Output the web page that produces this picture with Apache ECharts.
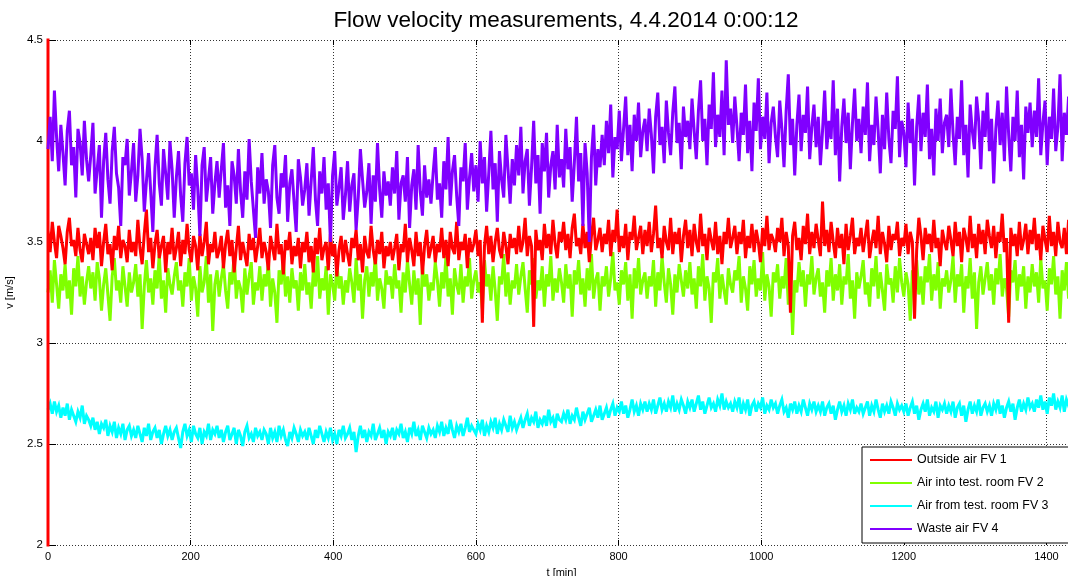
<!DOCTYPE html>
<html>
<head>
<meta charset="utf-8">
<script src="https://cdn.jsdelivr.net/npm/echarts@6/dist/echarts.min.js"></script>
<style>
html,body{margin:0;padding:0;background:#fff;}
#chart{width:1068px;height:576px;}
</style>
</head>
<body>
<div id="chart"></div>
<script>
// Sampling step of the series below (minutes); each row = one hour
const T_STEP = 3;

const seriesNames = ['Outside air FV 1', 'Air into test. room FV 2', 'Air from test. room FV 3', 'Waste air FV 4'];
const xTicks = [0, 200, 400, 600, 800, 1000, 1200, 1400];
const yTicks = [2, 2.5, 3, 3.5, 4, 4.5];

// initial transient of FV 1 at t = 0 (vertical red line on the left edge)
const fv1Start = [1.5, 4.6];

const fv1 = [
3.56,3.45,3.60,3.50,3.42,3.58,3.53,3.47,3.39,3.55,3.62,3.48,3.51,3.43,3.57,3.46,3.40,3.54,3.49,3.44,
3.52,3.41,3.57,3.47,3.55,3.38,3.50,3.59,3.44,3.49,3.36,3.53,3.46,3.58,3.42,3.51,3.48,3.40,3.56,3.45,
3.50,3.43,3.61,3.47,3.39,3.54,3.66,3.45,3.52,3.37,3.49,3.56,3.42,3.48,3.53,3.35,3.50,3.44,3.57,3.41,
3.47,3.55,3.38,3.51,3.44,3.59,3.46,3.40,3.53,3.48,3.36,3.54,3.43,3.50,3.60,3.39,3.49,3.45,3.55,3.42,
3.46,3.53,3.37,3.49,3.56,3.43,3.51,3.35,3.47,3.58,3.41,3.50,3.44,3.38,3.54,3.46,3.52,3.40,3.48,3.57,
3.42,3.50,3.45,3.36,3.53,3.47,3.41,3.59,3.44,3.49,3.34,3.51,3.46,3.55,3.39,3.48,3.43,3.52,3.37,3.50,
3.45,3.55,3.40,3.48,3.35,3.52,3.44,3.57,3.41,3.47,3.50,3.36,3.54,3.43,3.49,3.33,3.46,3.53,3.40,3.51,
3.44,3.38,3.52,3.47,3.56,3.41,3.49,3.35,3.53,3.45,3.42,3.58,3.46,3.39,3.51,3.44,3.55,3.37,3.48,3.43,
3.50,3.41,3.47,3.54,3.36,3.49,3.45,3.59,3.40,3.52,3.46,3.38,3.55,3.43,3.50,3.34,3.48,3.56,3.42,3.47,
3.53,3.40,3.49,3.45,3.57,3.42,3.51,3.38,3.55,3.47,3.44,3.60,3.41,3.50,3.46,3.54,3.37,3.52,3.45,3.49,
3.56,3.43,3.51,3.10,3.48,3.58,3.44,3.53,3.40,3.50,3.57,3.46,3.42,3.55,3.48,3.39,3.54,3.47,3.52,3.44,
3.58,3.45,3.50,3.62,3.43,3.53,3.48,3.08,3.56,3.46,3.51,3.41,3.59,3.47,3.54,3.44,3.61,3.49,3.42,3.55,
3.50,3.60,3.46,3.54,3.42,3.57,3.64,3.48,3.52,3.44,3.59,3.47,3.55,3.40,3.53,3.62,3.46,3.51,3.57,3.45,
3.54,3.49,3.61,3.43,3.56,3.50,3.66,3.45,3.53,3.47,3.59,3.41,3.55,3.51,3.63,3.46,3.52,3.58,3.44,3.56,
3.48,3.60,3.45,3.54,3.68,3.47,3.52,3.42,3.58,3.50,3.46,3.62,3.44,3.55,3.49,3.57,3.40,3.53,3.61,3.47,
3.56,3.43,3.59,3.50,3.45,3.64,3.48,3.54,3.41,3.57,3.51,3.46,3.60,3.44,3.53,3.39,3.55,3.49,3.62,3.47,
3.52,3.58,3.44,3.55,3.49,3.61,3.42,3.53,3.47,3.59,3.45,3.56,3.50,3.40,3.57,3.48,3.63,3.46,3.54,3.51,
3.45,3.57,3.50,3.62,3.43,3.55,3.48,3.15,3.53,3.60,3.46,3.52,3.41,3.58,3.49,3.64,3.44,3.55,3.47,3.59,
3.51,3.43,3.70,3.48,3.56,3.45,3.60,3.50,3.42,3.57,3.47,3.54,3.39,3.59,3.46,3.53,3.62,3.44,3.52,3.48,
3.57,3.45,3.53,3.61,3.42,3.50,3.56,3.47,3.63,3.44,3.55,3.49,3.40,3.58,3.46,3.54,3.51,3.60,3.43,3.52,
3.48,3.59,3.44,3.55,3.50,3.12,3.46,3.62,3.53,3.41,3.57,3.49,3.54,3.45,3.61,3.47,3.52,3.38,3.56,3.50,
3.46,3.58,3.51,3.43,3.60,3.48,3.55,3.40,3.57,3.52,3.45,3.63,3.47,3.54,3.42,3.59,3.49,3.56,3.44,3.61,
3.53,3.47,3.58,3.42,3.55,3.50,3.64,3.45,3.52,3.10,3.57,3.48,3.54,3.43,3.60,3.46,3.51,3.59,3.44,3.56,
3.49,3.62,3.46,3.54,3.41,3.58,3.51,3.45,3.63,3.48,3.55,3.43,3.60,3.50,3.47,3.57,3.44,3.61,3.52,3.55
];

const fv2 = [
3.25,3.36,3.20,3.41,3.29,3.17,3.34,3.26,3.39,3.22,3.31,3.14,3.37,3.28,3.43,3.23,3.33,3.19,3.30,3.38,
3.27,3.35,3.21,3.40,3.32,3.16,3.29,3.37,3.24,3.11,3.33,3.42,3.26,3.31,3.20,3.38,3.28,3.18,3.35,3.25,
3.30,3.39,3.23,3.34,3.07,3.28,3.41,3.25,3.32,3.19,3.36,3.27,3.44,3.22,3.31,3.15,3.37,3.29,3.24,3.33,
3.40,3.26,3.31,3.18,3.35,3.28,3.42,3.21,3.33,3.27,3.13,3.38,3.25,3.30,3.43,3.20,3.34,3.06,3.29,3.36,
3.23,3.32,3.39,3.26,3.17,3.35,3.29,3.44,3.22,3.31,3.27,3.15,3.37,3.24,3.33,3.40,3.19,3.30,3.26,3.38,
3.21,3.34,3.28,3.41,3.18,3.32,3.25,3.10,3.36,3.29,3.42,3.23,3.33,3.20,3.37,3.27,3.31,3.16,3.35,3.26,
3.39,3.24,3.30,3.17,3.36,3.28,3.43,3.22,3.32,3.26,3.38,3.14,3.34,3.29,3.21,3.40,3.27,3.33,3.19,3.31,
3.25,3.37,3.30,3.20,3.42,3.26,3.34,3.12,3.31,3.38,3.23,3.35,3.28,3.44,3.21,3.32,3.27,3.17,3.36,3.29,
3.33,3.22,3.39,3.27,3.31,3.15,3.35,3.25,3.41,3.29,3.19,3.36,3.24,3.32,3.09,3.38,3.28,3.34,3.21,3.30,
3.26,3.40,3.31,3.18,3.35,3.27,3.43,3.23,3.32,3.14,3.37,3.29,3.24,3.39,3.20,3.33,3.28,3.42,3.22,3.31,
3.36,3.25,3.30,3.17,3.41,3.28,3.34,3.21,3.38,3.26,3.11,3.33,3.29,3.44,3.23,3.35,3.19,3.31,3.27,3.39,
3.24,3.33,3.40,3.27,3.15,3.36,3.29,3.42,3.22,3.31,3.26,3.38,3.18,3.34,3.28,3.43,3.21,3.32,3.25,3.37,
3.30,3.20,3.39,3.27,3.34,3.13,3.36,3.29,3.41,3.24,3.32,3.18,3.37,3.26,3.44,3.22,3.31,3.35,3.16,3.33,
3.28,3.38,3.23,3.32,3.45,3.26,3.30,3.19,3.36,3.29,3.40,3.21,3.34,3.12,3.37,3.27,3.42,3.24,3.31,3.35,
3.22,3.33,3.28,3.41,3.18,3.35,3.26,3.43,3.30,3.20,3.37,3.29,3.14,3.34,3.25,3.39,3.31,3.23,3.36,3.27,
3.40,3.24,3.32,3.17,3.38,3.28,3.44,3.21,3.33,3.27,3.10,3.35,3.30,3.42,3.22,3.34,3.26,3.19,3.37,3.29,
3.25,3.36,3.31,3.43,3.20,3.33,3.27,3.16,3.38,3.29,3.41,3.23,3.32,3.26,3.45,3.21,3.34,3.28,3.13,3.35,
3.30,3.39,3.22,3.33,3.27,3.42,3.19,3.35,3.04,3.31,3.25,3.40,3.28,3.36,3.18,3.34,3.29,3.43,3.24,3.32,
3.37,3.23,3.30,3.15,3.36,3.28,3.42,3.21,3.34,3.26,3.39,3.19,3.33,3.29,3.44,3.22,3.31,3.12,3.35,3.27,
3.33,3.41,3.24,3.30,3.18,3.37,3.28,3.43,3.22,3.35,3.26,3.16,3.39,3.29,3.32,3.20,3.38,3.25,3.42,3.30,
3.23,3.35,3.29,3.11,3.36,3.27,3.41,3.24,3.33,3.19,3.38,3.30,3.44,3.21,3.34,3.26,3.40,3.17,3.32,3.28,
3.36,3.25,3.31,3.43,3.20,3.34,3.28,3.39,3.15,3.33,3.27,3.42,3.22,3.35,3.07,3.30,3.38,3.24,3.32,3.40,
3.26,3.34,3.19,3.37,3.29,3.44,3.23,3.32,3.27,3.13,3.36,3.30,3.41,3.21,3.34,3.28,3.38,3.17,3.33,3.25,
3.39,3.28,3.35,3.20,3.42,3.27,3.31,3.16,3.37,3.29,3.43,3.24,3.33,3.12,3.36,3.26,3.40,3.22,3.31,3.34
];

const fv3 = [
2.67,2.70,2.65,2.71,2.66,2.69,2.63,2.68,2.64,2.70,2.62,2.67,2.64,2.61,2.66,2.63,2.69,2.60,2.64,2.62,
2.59,2.63,2.57,2.61,2.55,2.60,2.58,2.62,2.54,2.59,2.56,2.61,2.53,2.58,2.55,2.60,2.52,2.57,2.59,2.54,
2.57,2.53,2.59,2.55,2.51,2.58,2.54,2.60,2.52,2.56,2.58,2.53,2.57,2.50,2.55,2.59,2.54,2.57,2.52,2.56,
2.58,2.53,2.48,2.56,2.60,2.54,2.57,2.51,2.59,2.55,2.53,2.58,2.50,2.56,2.54,2.60,2.52,2.57,2.55,2.59,
2.53,2.57,2.51,2.56,2.59,2.52,2.55,2.58,2.50,2.57,2.54,2.49,2.56,2.59,2.53,2.55,2.51,2.58,2.54,2.56,
2.52,2.57,2.55,2.50,2.58,2.53,2.56,2.51,2.59,2.54,2.57,2.52,2.49,2.56,2.53,2.58,2.55,2.51,2.57,2.54,
2.56,2.52,2.58,2.54,2.50,2.57,2.53,2.59,2.55,2.51,2.56,2.53,2.58,2.52,2.55,2.50,2.57,2.54,2.59,2.53,
2.55,2.58,2.52,2.56,2.46,2.54,2.59,2.53,2.57,2.51,2.56,2.54,2.60,2.52,2.55,2.58,2.53,2.57,2.50,2.56,
2.54,2.58,2.52,2.57,2.55,2.60,2.53,2.56,2.51,2.58,2.55,2.61,2.54,2.57,2.52,2.59,2.56,2.53,2.58,2.55,
2.57,2.53,2.59,2.56,2.61,2.54,2.58,2.55,2.62,2.57,2.53,2.59,2.56,2.60,2.54,2.58,2.63,2.56,2.59,2.57,
2.55,2.60,2.57,2.62,2.54,2.59,2.56,2.61,2.58,2.63,2.55,2.60,2.57,2.62,2.59,2.56,2.64,2.58,2.61,2.57,
2.60,2.63,2.58,2.62,2.65,2.59,2.63,2.61,2.66,2.58,2.62,2.60,2.64,2.59,2.67,2.61,2.63,2.58,2.65,2.62,
2.61,2.65,2.62,2.67,2.60,2.64,2.62,2.68,2.63,2.59,2.66,2.62,2.65,2.68,2.61,2.64,2.67,2.63,2.69,2.62,
2.65,2.68,2.63,2.67,2.70,2.64,2.68,2.66,2.71,2.65,2.69,2.63,2.67,2.72,2.66,2.69,2.64,2.70,2.67,2.71,
2.66,2.70,2.67,2.72,2.65,2.69,2.73,2.67,2.70,2.66,2.71,2.68,2.74,2.66,2.70,2.67,2.72,2.69,2.65,2.71,
2.68,2.72,2.66,2.70,2.74,2.67,2.71,2.65,2.69,2.73,2.68,2.70,2.66,2.72,2.69,2.75,2.67,2.71,2.68,2.70,
2.66,2.71,2.68,2.73,2.65,2.70,2.67,2.72,2.64,2.69,2.71,2.66,2.70,2.68,2.73,2.65,2.69,2.67,2.72,2.68,
2.70,2.65,2.69,2.72,2.66,2.68,2.63,2.70,2.67,2.71,2.65,2.69,2.66,2.72,2.68,2.64,2.70,2.67,2.71,2.66,
2.69,2.66,2.71,2.64,2.68,2.70,2.65,2.69,2.62,2.67,2.71,2.66,2.69,2.64,2.70,2.67,2.72,2.65,2.68,2.66,
2.70,2.65,2.68,2.71,2.64,2.69,2.66,2.72,2.67,2.63,2.70,2.66,2.69,2.65,2.71,2.68,2.64,2.70,2.67,2.69,
2.66,2.70,2.64,2.68,2.71,2.65,2.69,2.62,2.67,2.70,2.66,2.72,2.64,2.68,2.66,2.71,2.63,2.69,2.67,2.70,
2.65,2.69,2.66,2.71,2.63,2.68,2.70,2.64,2.69,2.61,2.67,2.71,2.65,2.69,2.66,2.72,2.64,2.68,2.70,2.66,
2.69,2.64,2.70,2.67,2.72,2.65,2.69,2.63,2.68,2.71,2.66,2.70,2.62,2.68,2.72,2.66,2.70,2.67,2.73,2.68,
2.70,2.66,2.72,2.68,2.74,2.67,2.71,2.65,2.73,2.69,2.75,2.67,2.71,2.68,2.74,2.66,2.72,2.69,2.73,2.70
];

const fv4 = [
3.96,4.12,3.90,4.25,4.02,3.85,4.08,3.94,3.78,4.05,4.15,3.88,3.97,3.72,4.06,3.99,3.83,4.10,3.91,3.80,
3.93,4.09,3.74,3.86,3.98,3.62,3.90,4.04,3.81,3.69,3.95,4.07,3.84,3.77,3.58,3.92,3.88,4.01,3.73,3.85,
3.99,3.70,3.83,4.06,3.91,3.65,3.80,3.94,3.75,3.55,3.87,4.03,3.79,3.68,3.96,3.84,3.71,4.00,3.86,3.62,
3.82,3.95,3.73,3.60,3.89,4.02,3.78,3.84,3.66,3.93,3.76,3.53,3.88,3.97,3.70,3.81,3.92,3.64,3.79,3.90,
3.72,3.86,3.99,3.67,3.78,3.58,3.90,3.83,3.69,3.96,3.75,3.62,3.85,3.71,4.01,3.80,3.66,3.52,3.87,3.74,
3.94,3.69,3.81,3.75,3.57,3.88,3.98,3.72,3.64,3.84,3.77,3.93,3.60,3.79,3.86,3.70,3.55,3.91,3.82,3.68,
3.76,3.89,3.63,3.80,3.97,3.71,3.58,3.85,3.74,3.92,3.66,3.79,3.50,3.83,3.95,3.68,3.77,3.87,3.61,3.73,
3.90,3.65,3.78,3.84,3.56,3.72,3.96,3.81,3.67,3.75,3.89,3.59,3.83,3.70,3.99,3.76,3.62,3.85,3.73,3.80,
3.68,3.87,3.74,3.95,3.61,3.79,3.83,3.70,3.92,3.57,3.78,3.86,3.66,3.98,3.75,3.63,3.88,3.72,3.81,3.69,
3.84,3.97,3.71,3.79,3.62,3.90,3.76,4.02,3.68,3.85,3.93,3.73,3.58,3.87,3.80,3.99,3.66,3.82,3.94,3.75,
3.88,3.70,4.00,3.79,3.92,3.65,3.84,4.05,3.76,3.89,3.60,3.95,3.81,3.72,4.03,3.86,3.69,3.91,3.78,3.98,
3.83,4.07,3.74,3.90,3.96,3.68,3.87,4.10,3.79,3.93,3.64,3.99,3.85,4.04,3.72,3.88,3.95,3.76,4.08,3.82,
3.91,3.77,4.06,3.86,3.97,3.70,3.89,4.12,3.80,3.94,3.58,3.99,3.84,3.50,3.92,4.08,3.78,3.96,3.87,4.03,
3.88,4.10,3.94,4.18,3.82,4.02,3.96,4.15,3.90,4.06,4.22,3.93,4.08,3.85,4.13,4.00,4.19,3.92,4.05,4.11,
3.95,4.16,4.03,3.84,4.12,4.24,3.98,4.07,3.89,4.20,4.04,3.93,4.14,4.27,3.99,4.09,3.86,4.17,4.02,4.10,
3.96,4.21,4.05,3.91,4.15,4.30,4.00,4.11,3.88,4.18,4.06,4.34,3.97,4.13,4.02,4.25,3.93,4.40,4.08,4.16,
3.99,4.22,4.07,3.90,4.14,4.03,4.28,3.94,4.10,3.85,4.19,4.05,4.31,3.96,4.12,4.01,4.24,3.89,4.09,4.17,
4.02,3.92,4.20,4.06,3.87,4.15,4.33,3.98,4.11,3.83,4.08,4.23,3.95,4.13,4.04,4.27,3.91,4.07,4.18,3.97,
4.12,3.88,4.05,4.25,3.96,4.10,4.01,4.30,3.93,4.16,3.80,4.07,4.21,3.99,4.14,3.86,4.09,4.26,4.00,4.11,
3.94,4.17,4.03,4.29,3.90,4.08,3.98,4.22,4.05,3.84,4.13,3.96,4.24,4.01,3.89,4.15,4.06,4.32,3.92,4.10,
4.04,3.87,4.19,3.99,4.11,3.78,4.07,4.23,3.95,4.14,4.02,4.28,3.91,4.06,3.83,4.16,4.00,4.21,3.94,4.09,
4.13,3.97,4.26,4.04,3.88,4.12,4.01,4.30,3.93,4.08,3.82,4.18,4.05,3.96,4.22,4.10,3.86,4.15,4.02,4.24,
3.95,4.11,3.79,4.06,4.20,3.98,4.14,3.90,4.27,4.03,3.85,4.12,4.00,4.25,3.92,4.08,3.81,4.17,4.04,4.19,
3.97,4.15,4.02,4.31,3.93,4.09,4.20,3.88,4.12,4.01,4.26,3.95,4.07,4.33,3.90,4.14,4.03,4.22,3.96,4.10
];

const colors = ['#ff0000', '#80ff00', '#00ffff', '#8000ff'];

function toPairs(arr) {
  return arr.map(function (v, i) { return [i * T_STEP, v]; });
}
const fv1Pairs = fv1Start.map(function (v) { return [0, v]; }).concat(toPairs(fv1));

const chart = echarts.init(document.getElementById('chart'), null, { renderer: 'canvas' });
const FONT = 'Liberation Sans, Arial, sans-serif';

const gridLine = { show: true, lineStyle: { color: '#333', type: [1, 2], width: 1 } };
const LW = 3;

chart.setOption({
  animation: false,
  backgroundColor: '#ffffff',
  title: {
    text: 'Flow velocity measurements, 4.4.2014 0:00:12',
    left: 561, top: 4, textAlign: 'center',
    textStyle: { fontFamily: FONT, fontSize: 22.5, fontWeight: 'normal', color: '#000' }
  },
  grid: { left: 48, right: -7, top: 40, bottom: 31, containLabel: false, outerBoundsMode: 'none' },
  legend: {
    data: seriesNames,
    orient: 'vertical',
    left: 862, top: 447,
    icon: 'rect',
    itemWidth: 42, itemHeight: 2,
    itemGap: 9,
    itemTextGap: 5,
    padding: [6, 40, 7, 8],
    backgroundColor: '#fff',
    borderColor: '#000', borderWidth: 1, borderRadius: 0,
    textStyle: { fontFamily: FONT, fontSize: 12.4, color: '#000', lineHeight: 14 },
    selectedMode: false
  },
  xAxis: [{
    type: 'value', min: 0, max: 1440, interval: 200,
    name: 't [min]', nameLocation: 'middle', nameGap: 22,
    nameTextStyle: { fontFamily: FONT, fontSize: 11, color: '#000' },
    axisLine: { show: false },
    axisTick: { show: true, inside: true, length: 5, lineStyle: { color: '#000' } },
    axisLabel: {
      margin: 6, fontFamily: FONT, fontSize: 11, color: '#000',
      formatter: function (v) { return xTicks.indexOf(v) >= 0 ? String(v) : ''; }
    },
    splitLine: gridLine
  }, {
    type: 'value', position: 'top', min: 0, max: 1440, interval: 200,
    axisLine: { show: false },
    axisTick: { show: true, inside: true, length: 5, lineStyle: { color: '#000' } },
    axisLabel: { show: false },
    splitLine: { show: false }
  }],
  yAxis: {
    type: 'value', min: 2, max: 4.5, interval: 0.5,
    name: 'v [m/s]', nameLocation: 'middle', nameGap: 33, nameRotate: 90,
    nameTextStyle: { fontFamily: FONT, fontSize: 11, color: '#000' },
    axisLine: { show: true, lineStyle: { color: '#000', width: 1 } },
    axisTick: { show: true, inside: true, length: 8, lineStyle: { color: '#000' } },
    axisLabel: {
      margin: 5, fontFamily: FONT, fontSize: 11.5, color: '#000',
      formatter: function (v) { return yTicks.indexOf(v) >= 0 ? String(v) : ''; }
    },
    splitLine: gridLine
  },
  series: [
    { name: seriesNames[0], type: 'line', data: fv1Pairs, z: 4, showSymbol: false, symbol: 'none',
      lineStyle: { color: colors[0], width: LW, join: 'miter', miterLimit: 4 }, itemStyle: { color: colors[0] } },
    { name: seriesNames[1], type: 'line', data: toPairs(fv2), z: 3, showSymbol: false, symbol: 'none',
      lineStyle: { color: colors[1], width: LW, join: 'miter', miterLimit: 4 }, itemStyle: { color: colors[1] } },
    { name: seriesNames[2], type: 'line', data: toPairs(fv3), z: 3, showSymbol: false, symbol: 'none',
      lineStyle: { color: colors[2], width: LW, join: 'miter', miterLimit: 4 }, itemStyle: { color: colors[2] } },
    { name: seriesNames[3], type: 'line', data: toPairs(fv4), z: 5, showSymbol: false, symbol: 'none',
      lineStyle: { color: colors[3], width: LW, join: 'miter', miterLimit: 4 }, itemStyle: { color: colors[3] } }
  ]
});
</script>
</body>
</html>
